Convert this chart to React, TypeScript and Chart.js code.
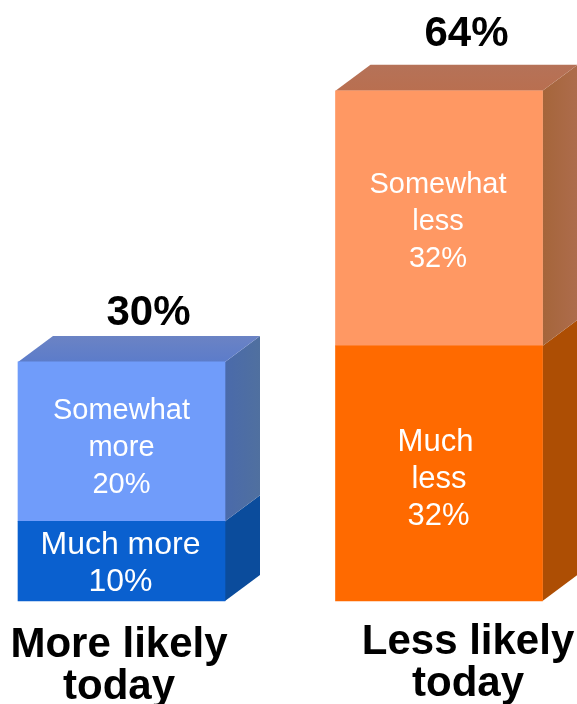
import React, { useEffect, useRef } from "react";
import { Chart, registerables } from "chart.js";

Chart.register(...registerables);

const categories = [["More likely", "today"], ["Less likely", "today"]];
const muchValues = [10, 32];
const somewhatValues = [20, 32];
const totals = ["30%", "64%"];
const muchLabels = [["Much more", "10%"], ["Much", "less", "32%"]];
const somewhatLabels = [["Somewhat", "more", "20%"], ["Somewhat", "less", "32%"]];

const muchColors = ["#0a60cf", "#ff6a00"];
const somewhatColors = ["#709cfa", "#ff9863"];
const muchSide = ["#0b4c9c", "#ad4e04"];
const somewhatSide = ["#4a6aab", "#a5653a"];
const somewhatSideFar = ["#50709f", "#ad6c4c"];
const topColors = ["#5c7cca", "#b96f50"];
const topColorsFar = ["#6b83c4", "#b57258"];

const DX = 35;
const DY = -26;
const FONT = '"Liberation Sans", Arial, sans-serif';

const faces = {
  id: "faces",
  beforeDatasetsDraw(chart: any) {
    const ctx = chart.ctx;
    const low = chart.getDatasetMeta(0).data;
    const high = chart.getDatasetMeta(1).data;
    const quad = (pts: number[][], fill: any) => {
      ctx.beginPath();
      pts.forEach((p, i) => (i ? ctx.lineTo(p[0], p[1]) : ctx.moveTo(p[0], p[1])));
      ctx.closePath();
      ctx.fillStyle = fill;
      ctx.fill();
    };
    low.forEach((l: any, i: number) => {
      const h = high[i];
      const half = l.width / 2;
      const left = l.x - half;
      const right = l.x + half;
      const sideGrad = ctx.createLinearGradient(right, 0, right + DX, 0);
      sideGrad.addColorStop(0, somewhatSide[i]);
      sideGrad.addColorStop(1, somewhatSideFar[i]);
      const topGrad = ctx.createLinearGradient(0, h.y + DY, 0, h.y);
      topGrad.addColorStop(0, topColorsFar[i]);
      topGrad.addColorStop(1, topColors[i]);
      quad([[right, l.base], [right + DX, l.base + DY], [right + DX, l.y + DY], [right, l.y]], muchSide[i]);
      quad([[right, l.y], [right + DX, l.y + DY], [right + DX, h.y + DY], [right, h.y]], sideGrad);
      quad([[left, h.y], [left + DX, h.y + DY], [right + DX, h.y + DY], [right, h.y]], topGrad);
    });
  },
};

const texts = {
  id: "texts",
  afterDatasetsDraw(chart: any) {
    const ctx = chart.ctx;
    const low = chart.getDatasetMeta(0).data;
    const high = chart.getDatasetMeta(1).data;
    ctx.save();
    ctx.textAlign = "center";
    ctx.textBaseline = "middle";
    const block = (lines: string[], x: number, y: number, gap: number, nudge: number[] = []) =>
      lines.forEach((line, i) =>
        ctx.fillText(line, x + (nudge[i] || 0), y + (i - (lines.length - 1) / 2) * gap)
      );

    ctx.fillStyle = "#ffffff";
    const muchShift = [[-1, 2.5], [0, 5.5]];
    const muchNudge = [[], [-3.5, 0, -0.5]];
    const muchSize = [32, 31];
    const someShift = [[0, 6], [-1, 4]];
    low.forEach((l: any, i: number) => {
      const h = high[i];
      ctx.font = `29px ${FONT}`;
      block(somewhatLabels[i], h.x + someShift[i][0], (h.y + h.base) / 2 + someShift[i][1], 37);
      ctx.font = `${muchSize[i]}px ${FONT}`;
      block(muchLabels[i], l.x + muchShift[i][0], (l.y + l.base) / 2 + muchShift[i][1], 37, muchNudge[i]);
    });

    ctx.fillStyle = "#000000";
    ctx.font = `bold 42px ${FONT}`;
    const totalShift = [[27, -48], [27.5, -56]];
    const catShift = [[-2.5, 44, 42], [29, 41, 42]];
    high.forEach((h: any, i: number) => {
      ctx.fillText(totals[i], h.x + totalShift[i][0], h.y + totalShift[i][1]);
      const base = low[i].base;
      categories[i].forEach((line, j) =>
        ctx.fillText(line, h.x + catShift[i][0], base + catShift[i][1] + j * catShift[i][2])
      );
    });
    ctx.restore();
  },
};

export default function App() {
  const ref = useRef<HTMLCanvasElement>(null);
  useEffect(() => {
    document.body.style.margin = "0";
    const chart = new Chart(ref.current!, {
      type: "bar",
      data: {
        labels: categories.map((c) => c.join(" ")),
        datasets: [
          { label: "Much", data: muchValues, backgroundColor: muchColors, barThickness: 207, clip: false } as any,
          { label: "Somewhat", data: somewhatValues, backgroundColor: somewhatColors, barThickness: 207, clip: false } as any,
        ],
      },
      options: {
        responsive: false,
        animation: false,
        layout: { padding: { left: 121.5, right: 138, top: 0, bottom: 103 } },
        plugins: { legend: { display: false }, tooltip: { enabled: false }, title: { display: false } },
        scales: {
          x: { display: false, stacked: true, offset: false, grid: { display: false } },
          y: { display: false, stacked: true, min: 0, max: 75.4, grid: { display: false } },
        },
      },
      plugins: [faces, texts],
    });
    return () => chart.destroy();
  }, []);
  return (
    <canvas
      ref={ref}
      width={577}
      height={704}
      style={{ position: "absolute", left: 0, top: 0, width: 577, height: 704, display: "block" }}
    />
  );
}
